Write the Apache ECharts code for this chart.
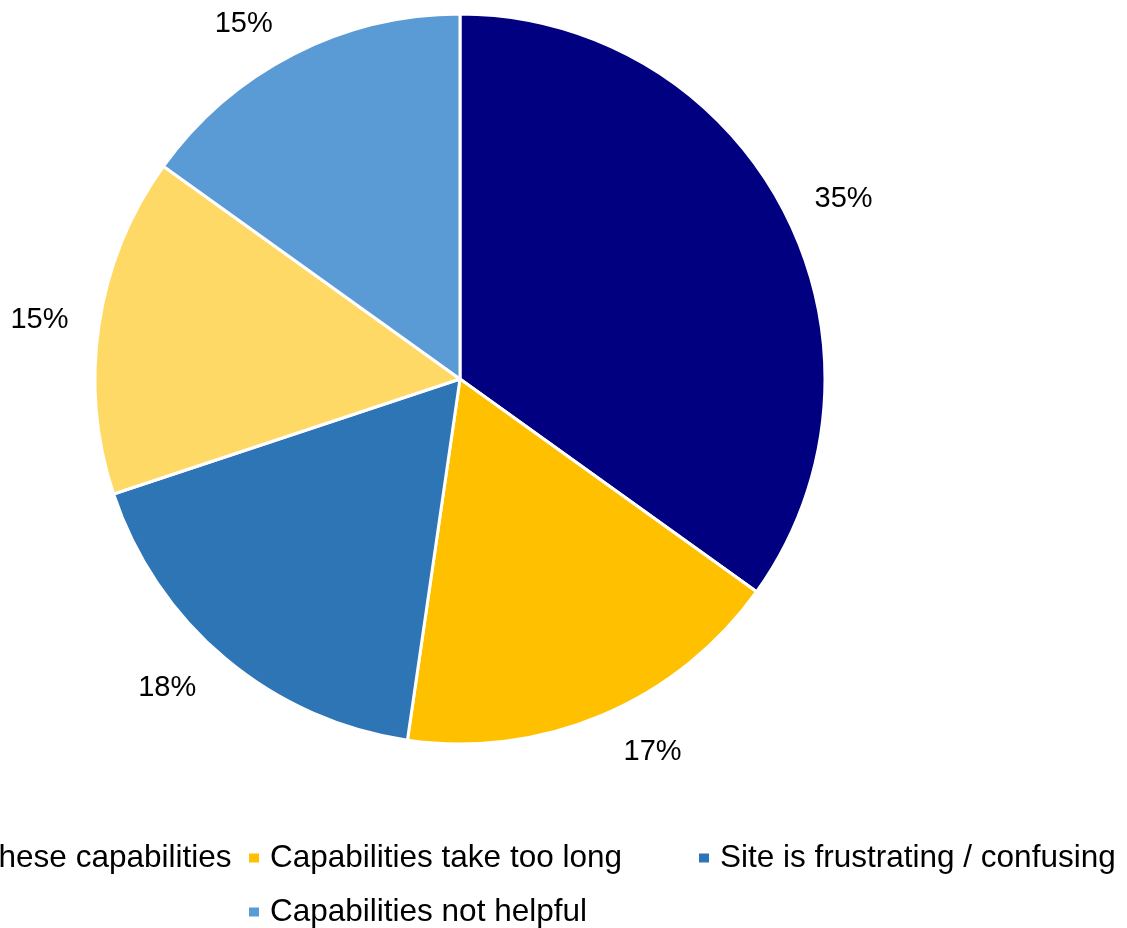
<!DOCTYPE html>
<html>
<head>
<meta charset="utf-8">
<script src="https://cdn.jsdelivr.net/npm/echarts@6/dist/echarts.min.js"></script>
<style>
  html, body { margin: 0; padding: 0; background: #fff; }
  #chart { width: 1127px; height: 928px; }
</style>
</head>
<body>
<div id="chart"></div>
<script>
// Reasons for not using the site's capabilities (share of respondents, %)
const categories = [
  'Unaware of these capabilities',
  'Capabilities take too long',
  'Site is frustrating / confusing',
  'Other',
  'Capabilities not helpful'
];
const shares = [34.9, 17.4, 17.6, 15.0, 15.1];
const sliceColors = ['#000080', '#FFC000', '#2E75B6', '#FFD966', '#5B9BD5'];

// distance of each percentage label from the rim
const labelReach = [28, 40, 38, 26, 34];

const chart = echarts.init(document.getElementById('chart'), null, { renderer: 'canvas' });

chart.setOption({
  backgroundColor: '#ffffff',
  animation: false,
  color: sliceColors,
  legend: {
    data: categories,
    orient: 'horizontal',
    left: -203,
    top: 831,
    width: 1400,
    padding: 0,
    itemGap: 0,
    itemWidth: 12,
    itemHeight: 11,
    icon: 'rect',
    selectedMode: false,
    textStyle: {
      fontFamily: 'Liberation Sans, Arial, sans-serif',
      fontSize: 31.5,
      color: '#000000',
      width: 427,
      lineHeight: 54,
      padding: [0, 0, 0, 5]
    }
  },
  series: [{
    type: 'pie',
    center: [460, 379],
    radius: [0, 365],
    startAngle: 90,
    clockwise: true,
    avoidLabelOverlap: false,
    itemStyle: { borderColor: '#ffffff', borderWidth: 3 },
    label: {
      show: true,
      position: 'outside',
      formatter: (p) => Math.round(p.value) + '%',
      fontFamily: 'Liberation Sans, Arial, sans-serif',
      fontSize: 29,
      color: '#000000',
      bleedMargin: 0
    },
    labelLine: { show: false, length: 36, length2: 0 },
    emphasis: { disabled: true },
    data: categories.map((name, i) => ({
      name,
      value: shares[i],
      labelLine: { show: false, length: labelReach[i], length2: 0 }
    }))
  }]
});
</script>
</body>
</html>
